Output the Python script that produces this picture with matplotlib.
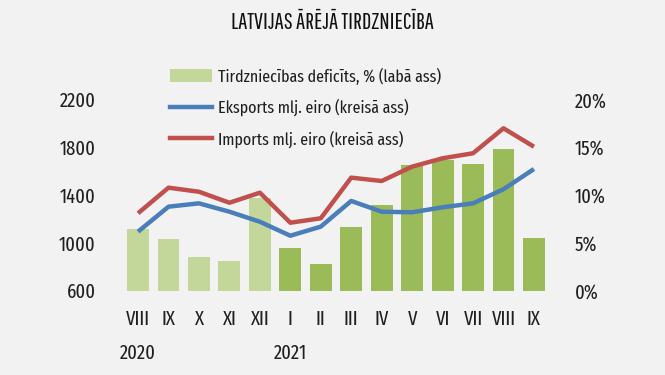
import matplotlib
matplotlib.use("Agg")
import matplotlib.pyplot as plt
from matplotlib.patches import Patch
from matplotlib.lines import Line2D

FONT = ['Fira Sans Extra Condensed', 'Liberation Sans Narrow', 'DejaVu Sans']
TITLE_FONT = ['Pathway Gothic One', 'Antonio', 'DejaVu Sans']
plt.rcParams['font.family'] = FONT

months = ['VIII', 'IX', 'X', 'XI', 'XII', 'I', 'II', 'III', 'IV', 'V', 'VI', 'VII', 'VIII', 'IX']
month_year = [2020, 2020, 2020, 2020, 2020, 2021, 2021, 2021, 2021, 2021, 2021, 2021, 2021, 2021]
deficit = [6.5, 5.4, 3.5, 3.1, 9.7, 4.5, 2.8, 6.7, 9.0, 13.1, 13.65, 13.2, 14.8, 5.55]
exports = [1094, 1303, 1331, 1261, 1177, 1060, 1136, 1351, 1261, 1256, 1298, 1331, 1449, 1618]
imports = [1248, 1462, 1428, 1336, 1420, 1169, 1206, 1546, 1518, 1638, 1708, 1750, 1959, 1805]
left_ticks = [600, 1000, 1400, 1800, 2200]
right_ticks = [0, 5, 10, 15, 20]
title = 'LATVIJAS ĀRĒJĀ TIRDZNIECĪBA'
labels = ['Tirdzniecības deficīts, % (labā ass)', 'Eksports mlj. eiro (kreisā ass)',
          'Imports mlj. eiro (kreisā ass)']

BG = '#f2f2f2'
LIGHT = '#c4d79b'
DARK = '#9bbb59'
BLUE = '#4a7ebb'
RED = '#c0504d'
TXT = '#1f1f1f'
FS = 14.5
LFS = 12.5

fig = plt.figure(figsize=(6.65, 3.75), dpi=100, facecolor=BG)
axb = fig.add_axes([0.1847, 0.2248, 0.8258 - 0.1847, 0.7347 - 0.2248])
axb.set_facecolor(BG)
x = list(range(len(months)))
colors = [LIGHT if y == 2020 else DARK for y in month_year]
axb.bar(x, deficit, width=0.72, color=colors, edgecolor='none', zorder=2)
axb.set_ylim(0, 20)
axb.set_xlim(-0.5, len(months) - 0.5)
axb.set_xticks(x)
axb.set_xticklabels(months)

axl = axb.twinx()
axl.plot(x, exports, color=BLUE, lw=3.2, solid_capstyle='butt', zorder=3)
axl.plot(x, imports, color=RED, lw=3.2, solid_capstyle='butt', zorder=3)
axl.set_ylim(600, 2200)
axl.set_yticks(left_ticks)
axl.set_yticklabels([str(v) for v in left_ticks])
axl.yaxis.tick_left()

axb.yaxis.tick_right()
axb.set_yticks(right_ticks)
axb.set_yticklabels([f'{v}%' for v in right_ticks])

for a in (axb, axl):
    for s in a.spines.values():
        s.set_visible(False)
    a.tick_params(length=0, labelsize=FS, colors=TXT)
axb.tick_params(axis='y', pad=18.5)
axl.tick_params(axis='y', pad=19.5)
axb.tick_params(axis='x', pad=13.5)

# year labels
seen = []
for i, yv in enumerate(month_year):
    if yv not in seen:
        seen.append(yv)
        axb.text(i, -0.325, str(yv), transform=axb.get_xaxis_transform(),
                 ha='center', va='center', fontsize=FS, color=TXT)

fig.text(0.5, 0.941, title, ha='center', va='center', fontsize=16.5, color='#111111',
         family=TITLE_FONT)

handles = [Patch(facecolor=LIGHT, edgecolor='none'),
           Line2D([], [], color=BLUE, lw=3.2),
           Line2D([], [], color=RED, lw=3.2)]
fig.legend(handles, labels, loc='upper left', bbox_to_anchor=(0.256, 0.819),
           frameon=False, fontsize=LFS, handlelength=2.4, handleheight=0.75,
           handletextpad=0.35, labelspacing=0.8, borderaxespad=0, borderpad=0,
           labelcolor=TXT)

fig.savefig('out.png', dpi=100, facecolor=BG)
